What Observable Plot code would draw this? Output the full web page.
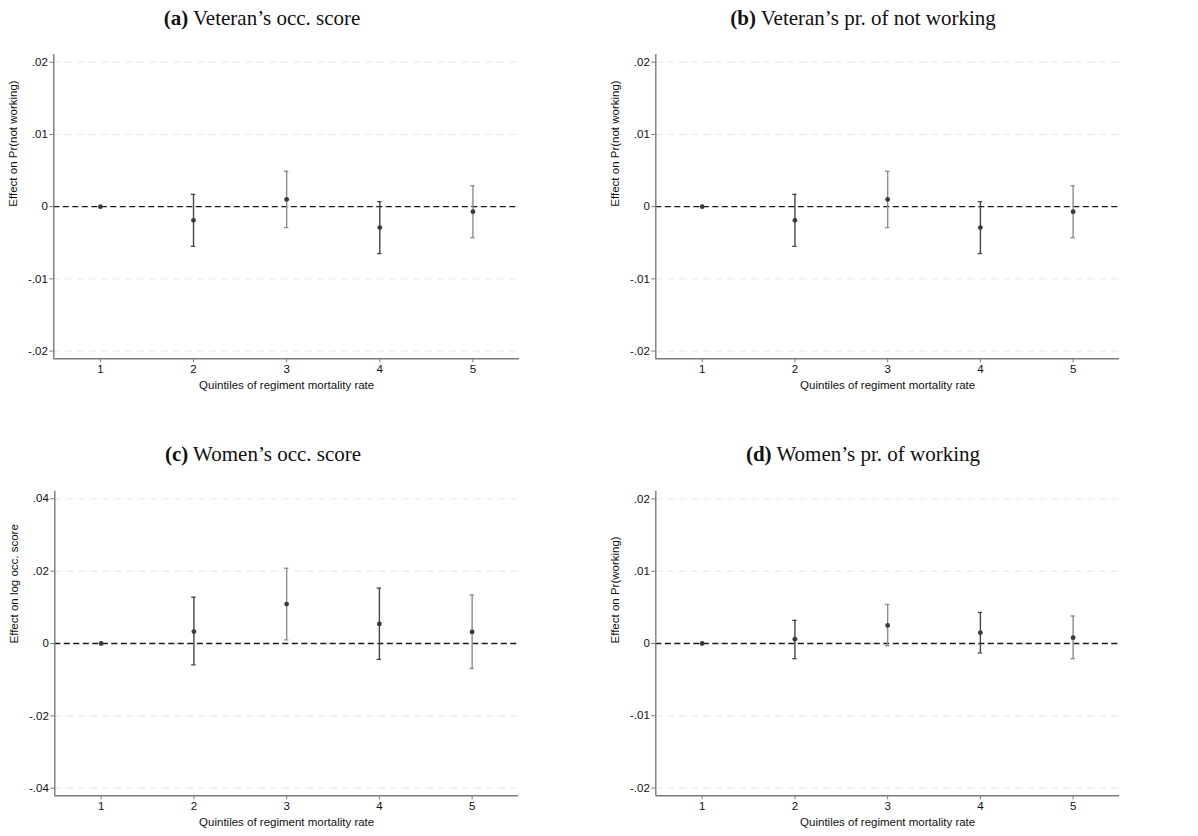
<!DOCTYPE html>
<html>
<head>
<meta charset="utf-8">
<script src="https://cdn.jsdelivr.net/npm/d3@7"></script>
<script src="https://cdn.jsdelivr.net/npm/@observablehq/plot@0.6"></script>
<style>
  html, body { margin: 0; padding: 0; background: #fff; }
  #root { position: relative; width: 1198px; height: 836px; overflow: hidden; background: #fff; }
  .title { position: absolute; font-family: "Liberation Serif", "Times New Roman", serif; font-size: 21px; color: #111; white-space: nowrap; transform: translateX(-50%); line-height: 1; }
  .title b { font-weight: bold; }
  .panel { position: absolute; }
</style>
</head>
<body>
<div id="root"></div>
<script>
// ---------- data ----------
const quintiles = [1, 2, 3, 4, 5];
const xTickLabels = ["1", "2", "3", "4", "5"];
const xLabel = "Quintiles of regiment mortality rate";

// (a) Veteran's occ. score
const coefA = [0, -0.0019, 0.0010, -0.0029, -0.0007];
const loA   = [0, -0.0055, -0.0029, -0.0065, -0.0043];
const hiA   = [0, 0.0017, 0.0049, 0.0007, 0.0029];

// (b) Veteran's pr. of not working
const coefB = [0, -0.0019, 0.0010, -0.0029, -0.0007];
const loB   = [0, -0.0055, -0.0029, -0.0065, -0.0043];
const hiB   = [0, 0.0017, 0.0049, 0.0007, 0.0029];

// (c) Women's occ. score
const coefC = [0, 0.0033, 0.0109, 0.0054, 0.0032];
const loC   = [0, -0.0059, 0.0010, -0.0044, -0.0069];
const hiC   = [0, 0.0128, 0.0208, 0.0153, 0.0134];

// (d) Women's pr. of working
const coefD = [0, 0.0006, 0.0025, 0.0015, 0.0008];
const loD   = [0, -0.0021, -0.0003, -0.0013, -0.0021];
const hiD   = [0, 0.0032, 0.0054, 0.0043, 0.0038];

const ticksSmall = [-0.02, -0.01, 0, 0.01, 0.02];
const tickLabelsSmall = ["-.02", "-.01", "0", ".01", ".02"];
const ticksLarge = [-0.04, -0.02, 0, 0.02, 0.04];
const tickLabelsLarge = ["-.04", "-.02", "0", ".02", ".04"];

const panels = [
  {tag: "(a)", title: " Veteran\u2019s occ. score", ylabel: "Effect on Pr(not working)",
   coef: coefA, lo: loA, hi: hiA, ticks: ticksSmall, tickLabels: tickLabelsSmall, lim: 0.02107,
   left: 0, top: 40, width: 519, height: 360, mt: 14, mb: 41.7, ml: 53.3, titleX: 262, titleY: 8},
  {tag: "(b)", title: " Veteran\u2019s pr. of not working", ylabel: "Effect on Pr(not working)",
   coef: coefB, lo: loB, hi: hiB, ticks: ticksSmall, tickLabels: tickLabelsSmall, lim: 0.02107,
   left: 602, top: 40, width: 517, height: 360, mt: 14, mb: 41.7, ml: 53.3, titleX: 863, titleY: 8},
  {tag: "(c)", title: " Women\u2019s occ. score", ylabel: "Effect on log occ. score",
   coef: coefC, lo: loC, hi: hiC, ticks: ticksLarge, tickLabels: tickLabelsLarge, lim: 0.0421,
   left: 0, top: 478, width: 518, height: 358, mt: 12.7, mb: 40.7, ml: 54.3, titleX: 263, titleY: 444},
  {tag: "(d)", title: " Women\u2019s pr. of working", ylabel: "Effect on Pr(working)",
   coef: coefD, lo: loD, hi: hiD, ticks: ticksSmall, tickLabels: tickLabelsSmall, lim: 0.02107,
   left: 602, top: 478, width: 517, height: 358, mt: 12.7, mb: 40.7, ml: 53.3, titleX: 863, titleY: 444}
];

const root = document.getElementById("root");
const darkBar = "#454545";
const grayBar = "#8c8c8c";
const axisColor = "#7a7a7a";

for (const p of panels) {
  const rows = quintiles.map((q, i) => ({q, coef: p.coef[i], lo: p.lo[i], hi: p.hi[i]}));
  const bars = rows.filter(d => d.lo !== d.hi);
  const barColor = d => (d.q % 2 === 0 ? darkBar : grayBar);
  const gridTicks = p.ticks.filter(t => t !== 0);
  const labelOf = t => p.tickLabels[p.ticks.indexOf(t)];

  const chart = Plot.plot({
    width: p.width,
    height: p.height,
    marginTop: p.mt,
    marginBottom: p.mb,
    marginLeft: p.ml,
    marginRight: 0,
    style: {fontFamily: "'Liberation Sans', Arial, sans-serif", fontSize: "11.5px", color: "#111", background: "transparent"},
    x: {domain: [0.5, 5.5], axis: null},
    y: {domain: [-p.lim, p.lim], axis: null},
    marks: [
      Plot.ruleY(gridTicks, {stroke: "#e6e6e6", strokeWidth: 1, strokeDasharray: "7,5"}),
      Plot.ruleY([0], {stroke: "#1a1a1a", strokeWidth: 1.3, strokeDasharray: "6,3.5"}),
      Plot.ruleX(bars, {x: "q", y1: "lo", y2: "hi", stroke: barColor, strokeWidth: 1.4}),
      Plot.ruleY(bars, {y: "hi", x1: "q", x2: "q", insetLeft: -2.2, insetRight: -2.2, stroke: barColor, strokeWidth: 1.3}),
      Plot.ruleY(bars, {y: "lo", x1: "q", x2: "q", insetLeft: -2.2, insetRight: -2.2, stroke: barColor, strokeWidth: 1.3}),
      Plot.dot(rows, {x: "q", y: "coef", r: 2.4, fill: "#3a3a3a", stroke: "none"}),
      Plot.axisY(p.ticks, {tickFormat: labelOf, tickSize: 4, tickPadding: 2, stroke: axisColor, fill: "#111", label: null}),
      Plot.axisX(quintiles, {tickFormat: (d, i) => xTickLabels[quintiles.indexOf(d)], tickSize: 4, tickPadding: 2.5, stroke: axisColor, fill: "#111", label: null}),
      Plot.ruleX([0.5], {stroke: axisColor, strokeWidth: 1.4}),
      Plot.ruleY([-p.lim], {stroke: axisColor, strokeWidth: 1.4}),
      Plot.text([p.ylabel], {frameAnchor: "left", text: d => d, rotate: -90, dx: -40, fill: "#111", fontSize: 11.5}),
      Plot.text([xLabel], {frameAnchor: "bottom", text: d => d, dy: 30, fill: "#111", fontSize: 11.5})
    ]
  });

  const wrap = document.createElement("div");
  wrap.className = "panel";
  wrap.style.left = p.left + "px";
  wrap.style.top = p.top + "px";
  wrap.appendChild(chart);
  root.appendChild(wrap);

  const t = document.createElement("div");
  t.className = "title";
  t.style.left = p.titleX + "px";
  t.style.top = p.titleY + "px";
  const b = document.createElement("b");
  b.textContent = p.tag;
  t.appendChild(b);
  t.appendChild(document.createTextNode(p.title));
  root.appendChild(t);
}
</script>
</body>
</html>
